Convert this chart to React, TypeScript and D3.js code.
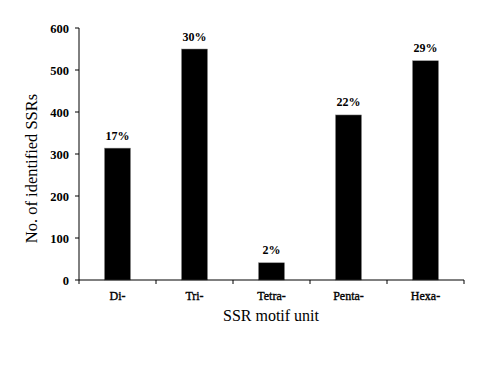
import React from "react";
import * as d3 from "d3";

const categories = ["Di-", "Tri-", "Tetra-", "Penta-", "Hexa-"];
const counts = [314, 550, 41, 393, 522];
const percentLabels = ["17%", "30%", "2%", "22%", "29%"];
const yTicks = [0, 100, 200, 300, 400, 500, 600];

export default function App() {
  const W = 485, H = 381;
  const left = 79, right = 464, top = 28, bottom = 280;
  const x = d3.scaleBand<string>().domain(categories).range([left, right]).paddingInner(0).paddingOuter(0);
  const y = d3.scaleLinear().domain([0, 600]).range([bottom, top]);
  const barW = 26;
  const font = "Liberation Serif";
  const boundaries = categories.map((c) => x(c)!).concat([right]);
  const ts = { fontFamily: font };
  return (
    <svg width={W} height={H} style={{ position: "absolute", left: 0, top: 0, background: "#fff" }}>
      {categories.map((c, i) => {
        const cx = x(c)! + x.bandwidth() / 2;
        return (
          <g key={c}>
            <rect x={cx - barW / 2} y={y(counts[i])} width={barW} height={bottom - y(counts[i])} fill="#000" stroke="#888" strokeWidth={0.5} />
            <text style={ts} x={cx} y={y(counts[i]) - 8.5} textAnchor="middle" fontSize={12} fontWeight="bold">{percentLabels[i]}</text>
            <text style={ts} x={cx} y={bottom + 19.5} textAnchor="middle" fontSize={12} stroke="#000" strokeWidth={0.35}>{c}</text>
          </g>
        );
      })}
      <line x1={left} x2={left} y1={top} y2={bottom} stroke="#000" strokeWidth={1} />
      <line x1={left} x2={right} y1={bottom} y2={bottom} stroke="#000" strokeWidth={1} />
      {yTicks.map((t) => (
        <g key={t}>
          <line x1={left - 4} x2={left} y1={y(t)} y2={y(t)} stroke="#000" />
          <text style={ts} x={left - 10} y={y(t) + 4.5} textAnchor="end" fontSize={12.5} fontWeight="bold">{t}</text>
        </g>
      ))}
      {boundaries.map((b, i) => (
        <line key={i} x1={b} x2={b} y1={bottom} y2={bottom + 4} stroke="#000" />
      ))}
      <text style={ts} x={271} y={321} textAnchor="middle" fontSize={16}>SSR motif unit</text>
      <text style={ts} transform={`translate(37,168.5) rotate(-90)`} textAnchor="middle" fontSize={16.5}>No. of identified SSRs</text>
    </svg>
  );
}
